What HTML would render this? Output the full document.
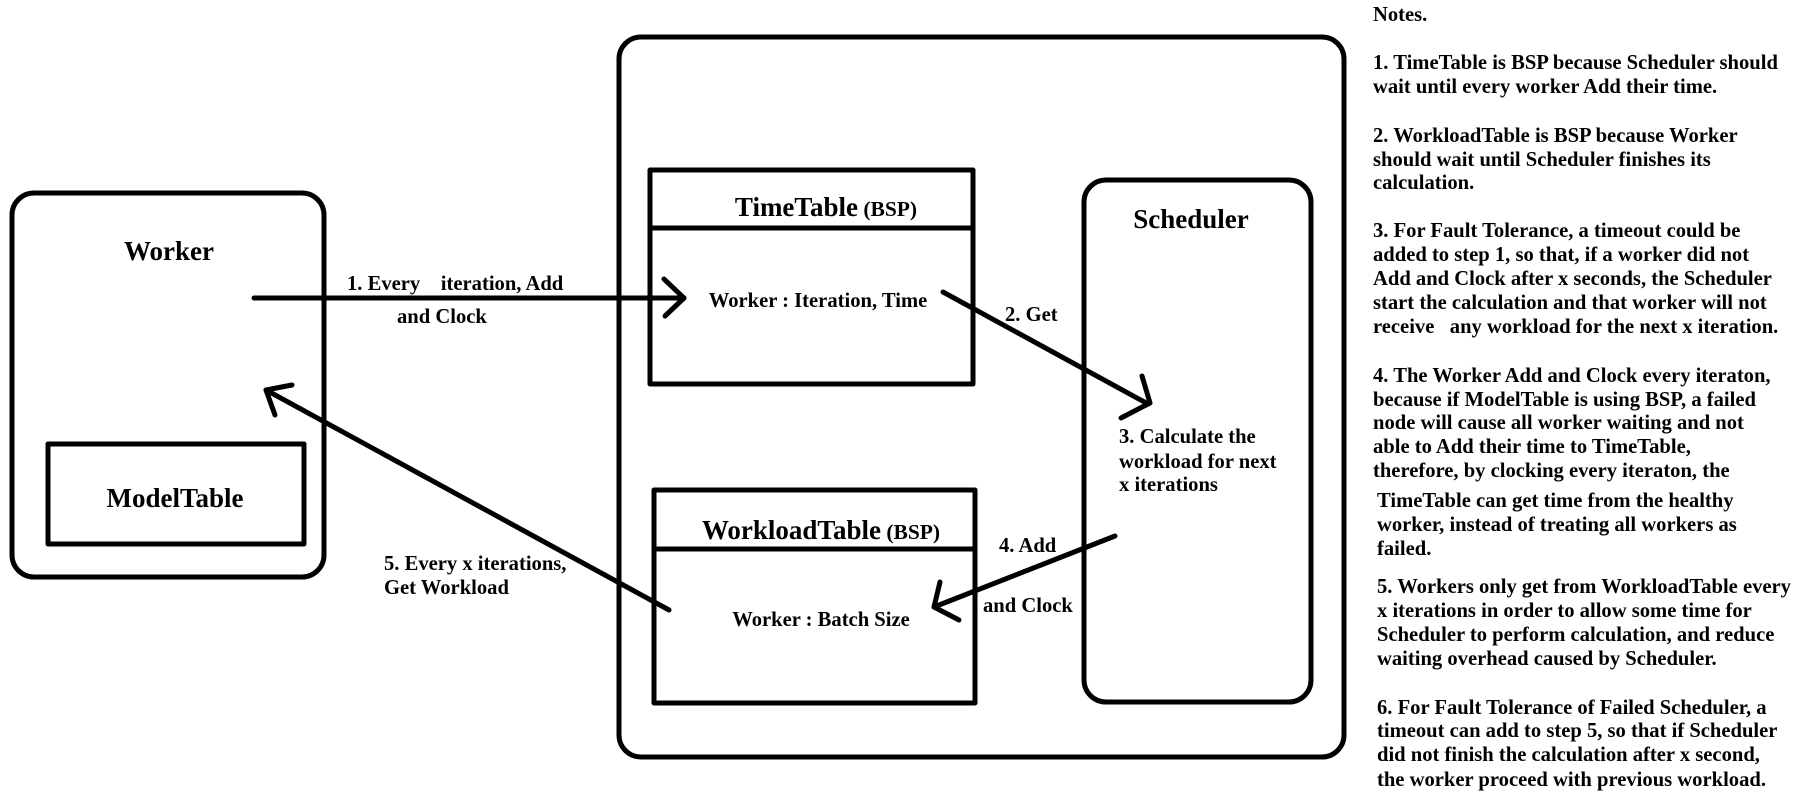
<!DOCTYPE html>
<html><head><meta charset="utf-8"><style>
html,body{margin:0;padding:0;background:#fff;}
svg{display:block;}
text{font-family:"Liberation Serif","DejaVu Serif",serif;font-weight:bold;fill:#000;}
.n{font-size:20.6px;}
.l{font-size:20.6px;}
.t{font-size:27px;}
.s{font-size:21.5px;}
</style></head><body>
<svg width="1799" height="797" viewBox="0 0 1799 797" xmlns="http://www.w3.org/2000/svg" font-family="Liberation Serif, serif">
<g fill="none" stroke="#000" stroke-width="5" stroke-linecap="round" stroke-linejoin="round">
<rect x="619" y="37" width="725" height="720" rx="22"/>
<rect x="12" y="193" width="312" height="384" rx="22"/>
<rect x="48" y="444" width="256" height="100" stroke-linecap="butt"/>
<rect x="650" y="170" width="323" height="214" stroke-linecap="butt"/>
<line x1="650" y1="228" x2="973" y2="228"/>
<rect x="654" y="490" width="321" height="213" stroke-linecap="butt"/>
<line x1="654" y1="549" x2="975" y2="549"/>
<rect x="1084" y="180" width="227" height="522" rx="22"/>
<line x1="254" y1="298" x2="684" y2="298"/>
<polyline points="664,279 684,298 665,316"/>
<line x1="943" y1="292" x2="1148" y2="404"/>
<polyline points="1142,376 1150,403 1121,418"/>
<line x1="1115" y1="536" x2="934" y2="607"/>
<polyline points="940,582 934,607 959,620"/>
<line x1="669" y1="610" x2="266" y2="390"/>
<polyline points="292,385 266,390 275,415"/>
</g>
<text class="t" x="169" y="260" text-anchor="middle">Worker</text>
<text class="t" x="175" y="507" text-anchor="middle">ModelTable</text>
<text x="826" y="216" text-anchor="middle"><tspan class="t">TimeTable</tspan><tspan class="s"> (BSP)</tspan></text>
<text x="821" y="539" text-anchor="middle"><tspan class="t">WorkloadTable</tspan><tspan class="s"> (BSP)</tspan></text>
<text class="t" x="1191" y="228" text-anchor="middle">Scheduler</text>
<text class="l" x="818" y="307" text-anchor="middle">Worker : Iteration, Time</text>
<text class="l" x="821" y="626" text-anchor="middle">Worker : Batch Size</text>
<text class="l" x="347" y="290" xml:space="preserve">1. Every    iteration, Add</text>
<text class="l" x="397" y="323">and Clock</text>
<text class="l" x="1005" y="321">2. Get</text>
<text class="l" x="1119" y="443">3. Calculate the</text>
<text class="l" x="1119" y="468">workload for next</text>
<text class="l" x="1119" y="491">x iterations</text>
<text class="l" x="999" y="552">4. Add</text>
<text class="l" x="983" y="612">and Clock</text>
<text class="l" x="384" y="570">5. Every x iterations,</text>
<text class="l" x="384" y="594">Get Workload</text>
<text class="n" x="1373" y="21">Notes.</text>
<text class="n" x="1373" y="69">1. TimeTable is BSP because Scheduler should</text>
<text class="n" x="1373" y="93">wait until every worker Add their time.</text>
<text class="n" x="1373" y="142">2. WorkloadTable is BSP because Worker</text>
<text class="n" x="1373" y="166">should wait until Scheduler finishes its</text>
<text class="n" x="1373" y="189">calculation.</text>
<text class="n" x="1373" y="237">3. For Fault Tolerance, a timeout could be</text>
<text class="n" x="1373" y="261">added to step 1, so that, if a worker did not</text>
<text class="n" x="1373" y="285">Add and Clock after x seconds, the Scheduler</text>
<text class="n" x="1373" y="309">start the calculation and that worker will not</text>
<text class="n" x="1373" y="333" xml:space="preserve">receive   any workload for the next x iteration.</text>
<text class="n" x="1373" y="382">4. The Worker Add and Clock every iteraton,</text>
<text class="n" x="1373" y="406">because if ModelTable is using BSP, a failed</text>
<text class="n" x="1373" y="429">node will cause all worker waiting and not</text>
<text class="n" x="1373" y="453">able to Add their time to TimeTable,</text>
<text class="n" x="1373" y="477">therefore, by clocking every iteraton, the</text>
<text class="n" x="1377" y="507">TimeTable can get time from the healthy</text>
<text class="n" x="1377" y="531">worker, instead of treating all workers as</text>
<text class="n" x="1377" y="555">failed.</text>
<text class="n" x="1377" y="593">5. Workers only get from WorkloadTable every</text>
<text class="n" x="1377" y="617">x iterations in order to allow some time for</text>
<text class="n" x="1377" y="641">Scheduler to perform calculation, and reduce</text>
<text class="n" x="1377" y="665">waiting overhead caused by Scheduler.</text>
<text class="n" x="1377" y="714">6. For Fault Tolerance of Failed Scheduler, a</text>
<text class="n" x="1377" y="737">timeout can add to step 5, so that if Scheduler</text>
<text class="n" x="1377" y="761">did not finish the calculation after x second,</text>
<text class="n" x="1377" y="786">the worker proceed with previous workload.</text>
</svg>
</body></html>
